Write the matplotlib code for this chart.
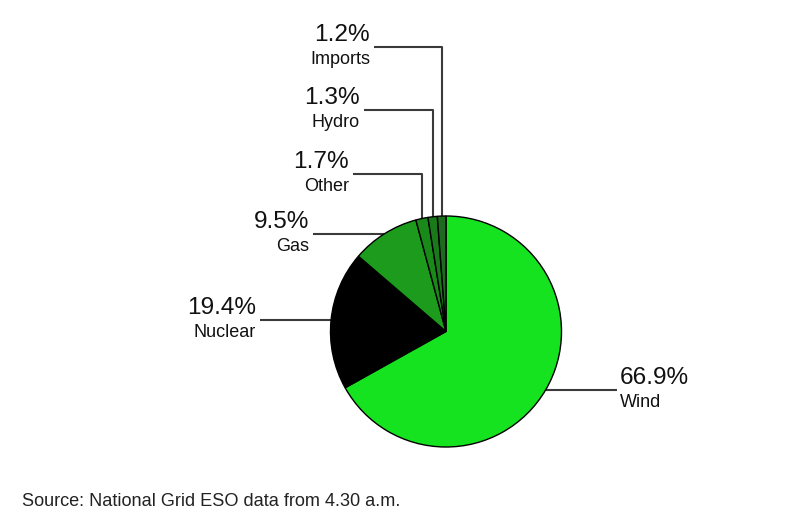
import numpy as np
import matplotlib
matplotlib.use("Agg")
import matplotlib.pyplot as plt

# --- data -------------------------------------------------------------
sources = ["Wind", "Nuclear", "Gas", "Other", "Hydro", "Imports"]
shares = [66.9, 19.4, 9.5, 1.7, 1.3, 1.2]
colors = ["#16e31f", "#000000", "#1c9b1c", "#198a19", "#1a7a1a", "#1e6a1e"]

# leader layout in pixels (y measured from the top), None = straight out
elbow_y = [None, None, None, 174, 110, 47]
end_x = [617, 260, 313, 353, 364, 374]

W, H = 800, 524
plt.rcParams["font.family"] = ["Liberation Sans", "DejaVu Sans"]

fig = plt.figure(figsize=(W / 100, H / 100), dpi=100)
ax = fig.add_axes([0, 0, 1, 1])

cx, cy, r = 446, H - 331.5, 115.5
wedges, _ = ax.pie(shares, colors=colors, startangle=90, counterclock=False,
                   center=(cx, cy), radius=r,
                   wedgeprops=dict(edgecolor="black", linewidth=1.0))

ax.set_xlim(0, W)
ax.set_ylim(0, H)
ax.set_aspect("equal")
ax.axis("off")

# --- leaders and labels ------------------------------------------------
for w, name, val, ey, ex in zip(wedges, sources, shares, elbow_y, end_x):
    mid = np.deg2rad((w.theta1 + w.theta2) / 2)
    ax0 = cx + r * np.cos(mid)
    ay0 = cy + r * np.sin(mid)
    ly = ay0 if ey is None else H - ey
    ax.plot([ax0, ax0, ex], [ay0, ly, ly], color="#3a3a3a", lw=1.5,
            solid_capstyle="butt", zorder=0)
    if ex > cx:
        tx, ha = ex + 3, "left"
    else:
        tx, ha = ex - 4, "right"
    ax.text(tx, ly + 12, f"{val:.1f}%", ha=ha, va="center",
            fontsize=17.6, color="#111111")
    ax.text(tx, ly - 12.5, name, ha=ha, va="center",
            fontsize=13, color="#111111")

fig.text(22 / W, 1 - 501 / H, "Source: National Grid ESO data from 4.30 a.m.",
         ha="left", va="center", fontsize=13.1, color="#222222")

fig.savefig("out.png", dpi=100, facecolor="white")
